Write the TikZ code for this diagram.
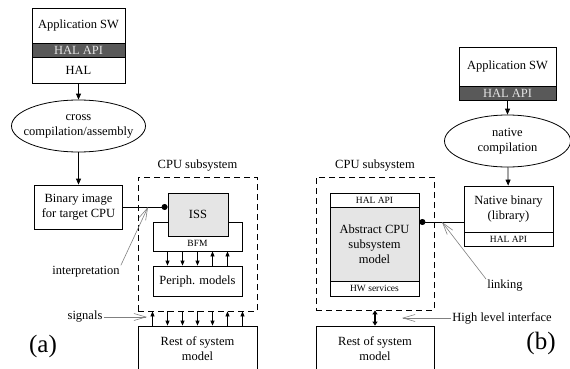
\documentclass[tikz,border=0pt]{standalone}
\usepackage{fontspec}
\setmainfont{Liberation Serif}
\usetikzlibrary{arrows.meta,shapes.geometric}

\tikzset{
	blk/.style={draw, line width=0.8pt, inner sep=0pt, align=center, font=\fontsize{12.5}{15}\selectfont},
	band/.style={blk, fill=black!65, text=black!10},
	shade/.style={blk, fill=black!10},
	small/.style={font=\fontsize{9.5}{11}\selectfont},
	strip/.style={blk, small},
	proc/.style={ellipse, draw, line width=0.8pt, inner sep=0pt},
	lbl/.style={align=center, inner sep=1pt, font=\fontsize{12.5}{15}\selectfont},
	tag/.style={inner sep=0pt, font=\fontsize{25}{30}\selectfont},
	subsys/.style={draw, line width=0.8pt, dash pattern=on 6pt off 4pt},
	flow/.style={line width=0.8pt, -{Triangle[length=6pt,width=5pt]}},
	sig/.style={line width=0.8pt, -{Triangle[length=5pt,width=4pt]}},
	pointer/.style={draw=black!50, line width=0.6pt, -{Straight Barb[length=12pt,width=7pt]}}
}

\begin{document}
\begin{tikzpicture}[x=1pt,y=-1pt]
	\useasboundingbox (0,0) rectangle (570,369);
	\node[blk, minimum width=93pt, minimum height=35pt] (appl) at (78.5,25.5) {Application SW};
	\node[band, minimum width=93pt, minimum height=14pt] (apil) at (78.5,50) {HAL API};
	\node[blk, minimum width=93pt, minimum height=26pt] (hal) at (78.5,70) {HAL};
	\node[proc, minimum width=134pt, minimum height=52pt] (cross) at (78.5,126) {};
	\node[lbl] (crosstxt) at (cross) {cross\\compilation/assembly};
	\node[blk, minimum width=88pt, minimum height=44pt] (bin) at (78.5,207) {Binary image\\for target CPU};
		\node[subsys, minimum width=119pt, minimum height=134pt] (cpul) at (197.5,244) {};
		\node[lbl] (cpultxt) at (197.5,166) {CPU subsystem};
		\node[blk, minimum width=89pt, minimum height=29pt] (bfm) at (197.5,236.5) {};
		\node[small] (bfmtxt) at (197.5,243) {BFM};
		\node[shade, minimum width=60pt, minimum height=43pt] (iss) at (198,214.5) {ISS};
		\node[blk, minimum width=89pt, minimum height=30pt] (periph) at (197.5,281) {Periph. models};
		\node[blk, minimum width=119pt, minimum height=46pt] (restl) at (197.5,349) {Rest of system\\model};
	\coordinate (interpt) at (148,207);
	\node[lbl] (interp) at (86,272) {interpretation};
	\coordinate (sigpt) at (147,317);
	\node[lbl] (sigtxt) at (85,317) {signals};
	\node[tag] (taga) at (43,346) {(a)};
	\draw[flow] (hal) -- (cross);
	\draw[flow] (cross) -- (bin);
	\draw[line width=0.8pt, -{Circle[length=6pt]}] (bin.east) -- (bin.east -| iss.west);
	\draw[pointer] (interp.north east) -- (interpt);
	\draw[pointer] (sigtxt) -- (sigpt);
	\foreach \dx in {-30,-15,0}
		\draw[sig] ([xshift=\dx pt]bfm.south) -- ([xshift=\dx pt]periph.north);
	\foreach \dx in {15,30}
		\draw[sig] ([xshift=\dx pt]periph.north) -- ([xshift=\dx pt]bfm.south);
	\foreach \dx in {-30,-15,0,15}
		\draw[sig] ([xshift=\dx pt]cpul.south) -- ([xshift=\dx pt]restl.north);
	\foreach \dx in {-45,30,45}
		\draw[sig] ([xshift=\dx pt]restl.north) -- ([xshift=\dx pt]cpul.south);

	\node[blk, minimum width=97pt, minimum height=39pt] (appr) at (507.5,66.5) {Application SW};
	\node[band, minimum width=97pt, minimum height=14pt] (apir) at (507.5,93) {HAL API};
	\node[proc, minimum width=126pt, minimum height=52pt] (native) at (507.5,141) {};
	\node[lbl] (nativetxt) at (native) {native\\compilation};
	\node[blk, minimum width=89pt, minimum height=46pt] (natbin) at (508.5,209) {Native binary\\(library)};
	\node[strip, minimum width=89pt, minimum height=14pt] (natapi) at (508.5,239) {HAL API};
		\node[subsys, minimum width=118pt, minimum height=133pt] (cpur) at (375,243.5) {};
		\node[lbl] (cpurtxt) at (375,166) {CPU subsystem};
		\node[strip, minimum width=89pt, minimum height=14pt] (absapi) at (374.5,200) {HAL API};
		\node[shade, minimum width=89pt, minimum height=74pt] (abscore) at (374.5,244) {Abstract CPU\\subsystem\\model};
		\node[strip, minimum width=89pt, minimum height=15pt] (abshw) at (374.5,288.5) {HW services};
		\node[blk, minimum width=118pt, minimum height=46pt] (restr) at (375,349) {Rest of system\\model};
	\coordinate (linkpt) at (442,222);
	\node[lbl] (linktxt) at (505,286) {linking};
	\coordinate (hlipt) at (402,318);
	\node[lbl] (hlitxt) at (502,318) {High level interface};
	\node[tag] (tagb) at (541,343) {(b)};
	\draw[flow] (apir) -- (native);
	\draw[flow] (native) -- (natbin);
	\draw[line width=0.8pt, -{Circle[length=6pt]}] ([yshift=-13pt]natbin.west) -- ([yshift=-13pt]natbin.west -| abscore.east);
	\draw[pointer] (linktxt.north west) -- (linkpt);
	\draw[pointer] (hlitxt) -- (hlipt);
	\draw[line width=1.5pt, {Triangle[length=4pt,width=5pt]}-{Triangle[length=4pt,width=5pt]}] (cpur.south) -- (restr.north);
\end{tikzpicture}
\end{document}
